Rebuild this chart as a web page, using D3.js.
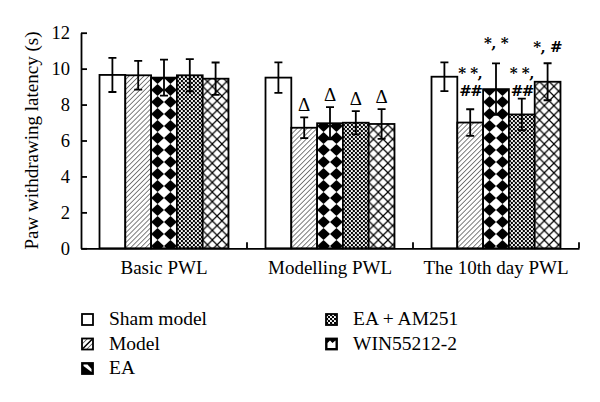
<!DOCTYPE html>
<html>
<head>
<meta charset="utf-8">
<script src="https://cdn.jsdelivr.net/npm/d3@7"></script>
<style>
  body { margin: 0; background: #fff; }
  text { font-family: "Liberation Serif", "Times New Roman", serif; fill: #000; }
</style>
</head>
<body>
<div id="chart"></div>
<script>
// DATA
var groups = ["Basic PWL", "Modelling PWL", "The 10th day PWL"];
var series = ["Sham model", "Model", "EA", "EA + AM251", "WIN55212-2"];
// means per series, one value per group
var shamMeans  = [9.65, 9.5, 9.55];
var modelMeans = [9.63, 6.71, 7.0];
var eaMeans    = [9.5, 6.96, 8.86];
var amMeans    = [9.63, 6.99, 7.45];
var winMeans   = [9.44, 6.92, 9.27];
// standard deviations
var shamErr  = [0.95, 0.85, 0.8];
var modelErr = [0.8, 0.58, 0.74];
var eaErr    = [1.0, 0.9, 1.43];
var amErr    = [0.9, 0.65, 0.88];
var winErr   = [0.9, 0.83, 1.03];
var yTicks = [0, 2, 4, 6, 8, 10, 12];
// significance marks: group, series, text lines, value at baseline of last line
var deltaMarks = [
  { group: "Modelling PWL", series: "Model" },
  { group: "Modelling PWL", series: "EA" },
  { group: "Modelling PWL", series: "EA + AM251" },
  { group: "Modelling PWL", series: "WIN55212-2" }
];
var starMarks = [
  { group: "The 10th day PWL", series: "Model", lines: ["* *,", "##"], level: 8.47 },
  { group: "The 10th day PWL", series: "EA", lines: ["*, *"], level: 11.15 },
  { group: "The 10th day PWL", series: "EA + AM251", lines: ["* *,", "##"], level: 8.47 },
  { group: "The 10th day PWL", series: "WIN55212-2", lines: ["*, #"], level: 10.95 }
];

var means = [shamMeans, modelMeans, eaMeans, amMeans, winMeans];
var errs = [shamErr, modelErr, eaErr, amErr, winErr];
var rows = [];
groups.forEach(function (g, gi) {
  series.forEach(function (s, si) {
    rows.push({ group: g, series: s, si: si, value: means[si][gi], err: errs[si][gi] });
  });
});

// LAYOUT
var W = 600, H = 402;
var mLeft = 81, mRight = 579, mTop = 32.7, mBottom = 248.3;

var svg = d3.select("#chart").append("svg")
  .attr("width", W).attr("height", H);

// PATTERNS
var defs = svg.append("defs");
var pHatch = defs.append("pattern").attr("id", "p1")
  .attr("patternUnits", "userSpaceOnUse")
  .attr("width", 3.5).attr("height", 3.5)
  .attr("patternTransform", "rotate(45)");
pHatch.append("rect").attr("width", 3.5).attr("height", 3.5).attr("fill", "#fff");
pHatch.append("line").attr("x1", 0).attr("y1", -1).attr("x2", 0).attr("y2", 5)
  .attr("stroke", "#000").attr("stroke-width", 1);

var pDiamond = defs.append("pattern").attr("id", "p2")
  .attr("patternUnits", "userSpaceOnUse")
  .attr("width", 12.9).attr("height", 12);
pDiamond.append("rect").attr("width", 12.9).attr("height", 12).attr("fill", "#fff");
pDiamond.append("polygon").attr("points", "6.45,0 12.9,6 6.45,12 0,6").attr("fill", "#000");

var pDots = defs.append("pattern").attr("id", "p3")
  .attr("patternUnits", "userSpaceOnUse")
  .attr("width", 4).attr("height", 4);
pDots.append("rect").attr("width", 4).attr("height", 4).attr("fill", "#fff");
pDots.append("circle").attr("cx", 1).attr("cy", 1).attr("r", 1.25).attr("fill", "#000");
pDots.append("circle").attr("cx", 3).attr("cy", 3).attr("r", 1.25).attr("fill", "#000");

var pCross = defs.append("pattern").attr("id", "p4")
  .attr("patternUnits", "userSpaceOnUse")
  .attr("width", 9.6).attr("height", 9.6);
pCross.append("rect").attr("width", 9.6).attr("height", 9.6).attr("fill", "#fff");
pCross.append("path").attr("d", "M0,0L9.6,9.6M9.6,0L0,9.6")
  .attr("stroke", "#000").attr("stroke-width", 1.2);

var fills = ["#fff", "url(#p1)", "url(#p2)", "url(#p3)", "url(#p4)"];

// SCALES
var x0 = d3.scaleBand().domain(groups).range([mLeft, mRight])
  .paddingInner(0.223).paddingOuter(0.1115);
var x1 = d3.scaleBand().domain(series).range([0, x0.bandwidth()]);
var y = d3.scaleLinear().domain([0, 12]).range([mBottom, mTop]);

// BARS
var bars = svg.append("g").selectAll("g")
  .data(rows).enter().append("g")
  .attr("transform", function (d) { return "translate(" + (x0(d.group) + x1(d.series)) + ",0)"; });

bars.append("rect")
  .attr("x", 0)
  .attr("y", function (d) { return y(d.value); })
  .attr("width", x1.bandwidth())
  .attr("height", function (d) { return y(0) - y(d.value); })
  .attr("fill", function (d) { return fills[d.si]; })
  .attr("stroke", "#000").attr("stroke-width", 1.8);

// ERROR BARS
var cx = x1.bandwidth() / 2, cap = 4;
bars.append("path")
  .attr("d", function (d) {
    var t = y(d.value + d.err), b = y(d.value - d.err);
    return "M" + cx + "," + t + "V" + b +
      "M" + (cx - cap) + "," + t + "H" + (cx + cap) +
      "M" + (cx - cap) + "," + b + "H" + (cx + cap);
  })
  .attr("fill", "none").attr("stroke", "#000").attr("stroke-width", 1.8);

// AXES
var yAxis = svg.append("g").attr("transform", "translate(" + mLeft + ",0)")
  .call(d3.axisLeft(y).tickValues(yTicks).tickSize(-6).tickSizeOuter(0).tickPadding(11));
yAxis.selectAll("text").style("font-size", "18.5px")
  .style("font-family", "Liberation Serif");
yAxis.selectAll("line, path").attr("stroke-width", 1.8);

var xAxis = svg.append("g").attr("transform", "translate(0," + mBottom + ")")
  .call(d3.axisBottom(x0).tickSize(0).tickSizeOuter(0).tickPadding(12));
xAxis.selectAll("text").style("font-size", "19px")
  .style("font-family", "Liberation Serif");
xAxis.select("path").attr("stroke-width", 1.8);
// group boundary ticks
xAxis.selectAll(".bound").data(d3.range(1, groups.length + 1)).enter()
  .append("line").attr("class", "bound")
  .attr("x1", function (i) { return mLeft + i * x0.step(); })
  .attr("x2", function (i) { return mLeft + i * x0.step(); })
  .attr("y1", 0).attr("y2", -6)
  .attr("stroke", "#000").attr("stroke-width", 1.8);

svg.append("text")
  .attr("transform", "translate(38," + ((mTop + mBottom) / 2) + ") rotate(-90)")
  .attr("text-anchor", "middle")
  .style("font-size", "19px")
  .text("Paw withdrawing latency (s)");

// MARKS
function barCenter(m) { return x0(m.group) + x1(m.series) + x1.bandwidth() / 2; }
function rowOf(m) {
  return rows.filter(function (r) { return r.group === m.group && r.series === m.series; })[0];
}
svg.append("g").selectAll("text").data(deltaMarks).enter().append("text")
  .attr("x", barCenter)
  .attr("y", function (m) { var r = rowOf(m); return y(r.value + r.err) - 6; })
  .attr("text-anchor", "middle")
  .style("font-size", "19px")
  .text("\u0394");

var stars = svg.append("g").selectAll("text").data(starMarks).enter().append("text")
  .attr("text-anchor", "middle")
  .attr("fill", "#000")
  .style("font-size", "15px")
  .style("font-weight", "bold")
  .style("font-family", "DejaVu Serif")
  .attr("y", function (m) { return y(m.level) - (m.lines.length - 1) * 18; });
stars.selectAll("tspan").data(function (m) { return m.lines.map(function (l) { return { t: l, x: barCenter(m) }; }); })
  .enter().append("tspan")
  .attr("x", function (l) { return l.x; })
  .attr("dy", function (l, i) { return i ? 18 : 0; })
  .style("letter-spacing", function (l) { return l.t === "##" ? "-1.5px" : "-0.5px"; })
  .text(function (l) { return l.t; });

// LEGEND
var legCols = [82, 326], legRows = [314, 338.5, 363];
var leg = svg.append("g").selectAll("g").data(series).enter().append("g")
  .attr("transform", function (s, i) {
    return "translate(" + legCols[Math.floor(i / 3)] + "," + legRows[i % 3] + ")";
  });
var s = 11;
leg.each(function (name, i) {
  var g = d3.select(this);
  if (i === 2) {
    g.append("rect").attr("width", s).attr("height", s).attr("fill", "#000");
    g.append("polygon").attr("points", "1.5,1.5 5.5,1.5 9.5,6 9.5,9 1.5,3").attr("fill", "#fff");
  } else if (i === 4) {
    g.append("rect").attr("width", s).attr("height", s).attr("fill", "#000");
    g.append("polygon").attr("points", "1.5,9.5 1.5,4.5 4,2 6.5,4.5 9.5,2 9.5,9.5").attr("fill", "#fff");
  } else {
    g.append("rect").attr("width", s).attr("height", s).attr("fill", fills[i]);
    if (i === 1) {
      g.append("line").attr("x1", 1).attr("y1", s - 1).attr("x2", s - 1).attr("y2", 1)
        .attr("stroke", "#000").attr("stroke-width", 1.3);
    }
  }
  g.append("rect").attr("width", s).attr("height", s).attr("fill", "none")
    .attr("stroke", "#000").attr("stroke-width", 1.8);
  g.append("text").attr("x", 27).attr("y", s)
    .style("font-size", "19.5px").text(name);
});
</script>
</body>
</html>
